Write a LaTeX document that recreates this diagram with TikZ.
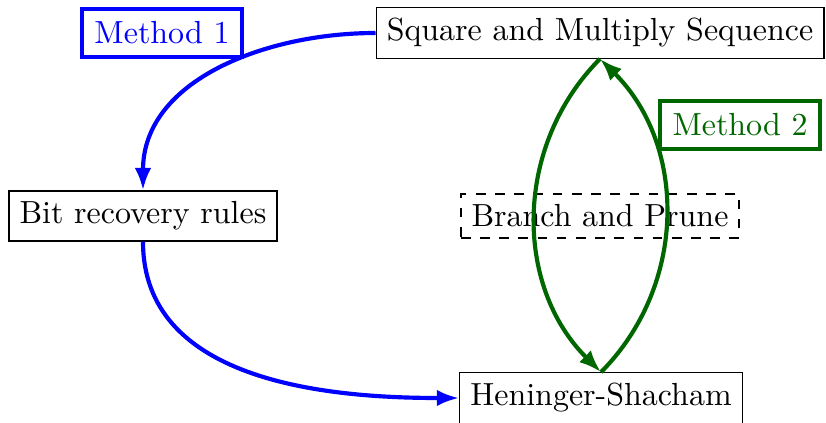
\documentclass[tikz,border=0pt]{standalone}
\usetikzlibrary{arrows.meta}
\definecolor{mgreen}{rgb}{0,0.4,0}
\tikzset{
  stage/.style={draw=black, line width=0.4pt, inner sep=0.333em},
  optstage/.style={stage, dashed},
  methodlabel/.style={draw=#1, text=#1, line width=1.3pt, inner sep=0.4em},
  flow/.style={draw=#1, line width=1.3pt, -{Latex[length=7pt,width=5.2pt]}},
}
\begin{document}
\begin{tikzpicture}[x=0.3128pt, y=-0.3128pt]
  \useasboundingbox (0,0) rectangle (826,423);

  % stages
  \node[stage] (sqm) at (600,33) {Square and Multiply Sequence};
  \node[stage] (bit) at (143,216) {Bit recovery rules};
  \node[optstage] (bnp) at (600,216) {Branch and Prune};
  \node[stage] (hs)  at (601,398) {Heninger-Shacham};

  % method labels
  \node[methodlabel=blue] (m1) at (162,33) {Method 1};
  \node[methodlabel=mgreen] (m2) at (740,125) {Method 2};

  % method 1: via bit recovery rules
  \draw[flow=blue] (sqm.west) to[out=180, in=90] (bit.north);
  \draw[flow=blue] (bit.south) to[out=270, in=180] (hs.west);

  % method 2: back and forth with branch and prune
  \draw[flow=mgreen] (sqm.south) to[bend right=45] (hs.north);
  \draw[flow=mgreen] (hs.north) to[bend right=45] (sqm.south);
\end{tikzpicture}
\end{document}
